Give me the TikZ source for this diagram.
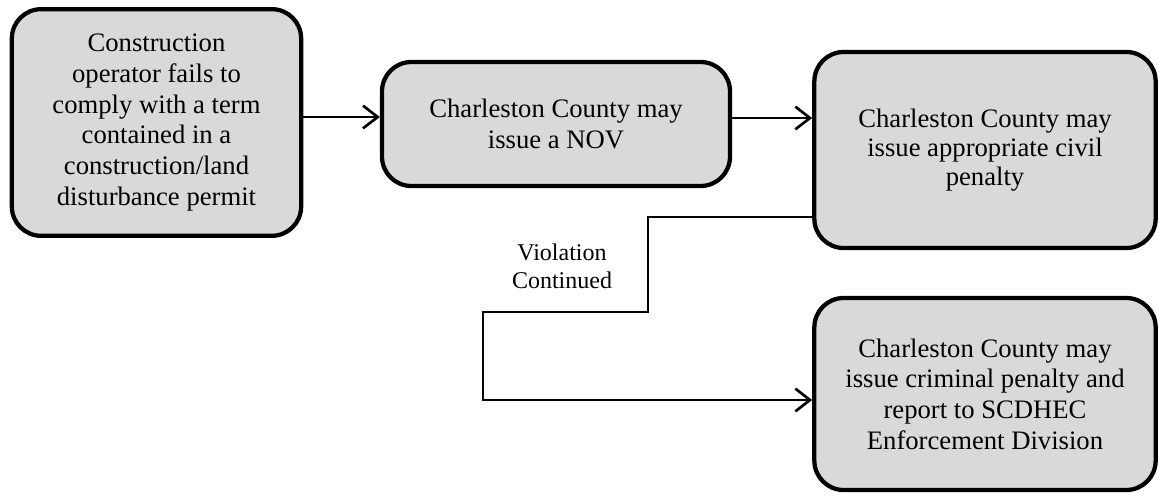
\documentclass[tikz,border=0pt]{standalone}
\usepackage{fontspec}
\setmainfont{Liberation Serif}
\usetikzlibrary{arrows.meta}
\definecolor{boxgray}{HTML}{D9D9D9}
\begin{document}
\begin{tikzpicture}[x=0.75pt,y=-0.75pt,
  box/.style={draw=black, line width=3.2pt, fill=boxgray, rounded corners=22pt,
    align=center, font=\fontsize{20}{23}\selectfont, inner sep=0pt},
  conn/.style={line width=2pt, -{Straight Barb[length=11pt,width=17pt]}},
  lbl/.style={align=center, font=\fontsize{18}{21}\selectfont, inner sep=0pt}]
\useasboundingbox (0,0) rectangle (1159,498);

\node[box, minimum width=217pt, minimum height=170pt] (b1) at (156.5,122.5)
  {Construction\\operator fails to\\comply with a term\\contained in a\\construction/land\\disturbance permit};
\node[box, minimum width=261pt, minimum height=93pt] (b2) at (556,124)
  {Charleston County may\\issue a NOV};
\node[box, minimum width=256pt, minimum height=147pt, font=\fontsize{20}{21.5}\selectfont] (b3) at (985,150)
  {Charleston County may\\issue appropriate civil\\penalty};
\node[box, minimum width=256pt, minimum height=144pt] (b4) at (985,394)
  {Charleston County may\\issue criminal penalty and\\report to SCDHEC\\Enforcement Division};

\coordinate (r1) at (0,117);
\coordinate (r2) at (0,118);
\coordinate (c0) at (0,217);
\coordinate (c1) at (648,217);
\coordinate (c2) at (648,312);
\coordinate (c3) at (483,312);
\coordinate (c4) at (483,400);

\draw[conn] (b1.east |- r1) -- (b2.west |- r1);
\draw[conn] (b2.east |- r2) -- (b3.west |- r2);
\draw[conn] (b3.west |- c0) -- (c1) -- (c2) -- (c3) -- (c4) -- (b4.west |- c4);

\node[lbl] (vc) at (562,266) {Violation\\Continued};
\end{tikzpicture}
\end{document}
